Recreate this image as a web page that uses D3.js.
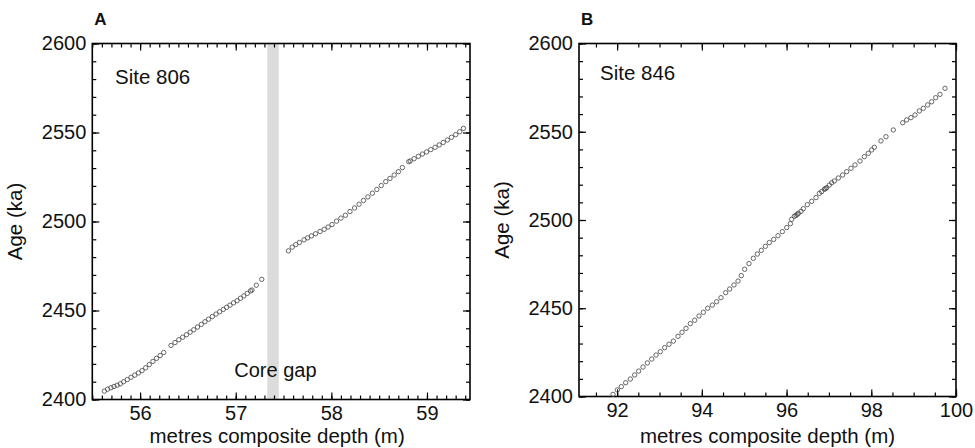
<!DOCTYPE html>
<html lang="en">
<head>
    <meta charset="UTF-8">
    <script src="https://cdn.jsdelivr.net/npm/d3@7"></script>
    <title>Age models</title>
    <style>
        * { margin: 0; padding: 0; box-sizing: border-box; }
        body, html { width: 975px; height: 448px; background: #fff; overflow: hidden; }
        svg { display: block; font-family: "Liberation Sans", Arial, sans-serif; }
    </style>
</head>
<body>
    <svg id="chart" width="975" height="448"></svg>
    <script type="text/javascript">
      // Site 806 (panel A), two runs either side of the core gap
      var depthA = [
        55.626, 55.660, 55.695, 55.727, 55.760, 55.793, 55.828, 55.866, 55.905, 55.944,
        55.982, 56.020, 56.058, 56.096, 56.134, 56.172, 56.210, 56.247, 56.323, 56.365,
        56.405, 56.445, 56.485, 56.523, 56.561, 56.600, 56.640, 56.678, 56.716, 56.755,
        56.794, 56.832, 56.870, 56.905, 56.940, 56.977, 57.014, 57.050, 57.085, 57.120,
        57.155, 57.170, 57.215, 57.272,
        57.551, 57.590, 57.628, 57.666, 57.714, 57.752, 57.792, 57.835, 57.882, 57.925,
        57.966, 58.007, 58.054, 58.100, 58.147, 58.195, 58.243, 58.290, 58.336, 58.382,
        58.429, 58.476, 58.522, 58.569, 58.613, 58.657, 58.701, 58.743, 58.810, 58.825,
        58.866, 58.910, 58.952, 58.996, 59.040, 59.085, 59.128, 59.170, 59.213, 59.256,
        59.300, 59.343, 59.381
      ];
      var ageA = [
        2404.7, 2405.8, 2406.6, 2407.3, 2408.0, 2408.8, 2410.0, 2411.2, 2412.5, 2413.7,
        2414.9, 2416.2, 2417.8, 2419.6, 2421.4, 2423.1, 2424.7, 2426.4, 2430.4, 2432.0,
        2433.6, 2435.0, 2436.4, 2437.8, 2439.2, 2440.7, 2442.2, 2443.7, 2445.1, 2446.6,
        2448.0, 2449.3, 2450.6, 2451.8, 2453.0, 2454.3, 2455.5, 2456.9, 2458.2, 2459.6,
        2461.0, 2461.5, 2464.2, 2467.5,
        2483.5, 2485.6, 2487.0, 2488.2, 2489.7, 2490.8, 2491.9, 2493.1, 2494.4, 2495.6,
        2496.9, 2498.3, 2500.2, 2501.9, 2503.5, 2505.6, 2507.6, 2509.7, 2511.8, 2513.8,
        2515.9, 2518.0, 2520.2, 2522.4, 2524.2, 2526.1, 2528.0, 2530.3, 2533.6, 2534.0,
        2535.3, 2536.6, 2537.9, 2539.1, 2540.4, 2541.7, 2543.0, 2544.4, 2545.8, 2547.3,
        2548.8, 2550.4, 2552.3
      ];

      // Site 846 (panel B)
      var depthB = [
        91.903, 92.005, 92.099, 92.202, 92.312, 92.414, 92.509, 92.611, 92.713, 92.816,
        92.918, 93.020, 93.122, 93.225, 93.327, 93.437, 93.532, 93.626, 93.728, 93.831,
        93.933, 94.035, 94.138, 94.248, 94.350, 94.452, 94.562, 94.657, 94.759, 94.854,
        94.932, 95.011, 95.113, 95.215, 95.310, 95.404, 95.499, 95.593, 95.696, 95.798,
        95.900, 96.003, 96.090, 96.120, 96.183, 96.223, 96.250, 96.278, 96.341, 96.396,
        96.490, 96.593, 96.695, 96.774, 96.829, 96.892, 96.920, 96.947, 97.010, 97.065,
        97.128, 97.222, 97.324, 97.419, 97.521, 97.616, 97.734, 97.836, 97.930, 98.009,
        98.072, 98.229, 98.347, 98.520, 98.741, 98.835, 98.937, 99.032, 99.134, 99.228,
        99.331, 99.425, 99.520, 99.622, 99.740
      ];
      var ageB = [
        2401.2, 2403.7, 2405.6, 2407.8, 2409.9, 2412.2, 2414.4, 2416.7, 2419.0, 2421.2,
        2423.5, 2425.4, 2427.7, 2429.6, 2431.4, 2434.1, 2436.4, 2438.6, 2441.3, 2443.2,
        2445.6, 2447.7, 2450.0, 2451.8, 2453.7, 2456.0, 2458.8, 2460.9, 2463.2, 2465.4,
        2468.5, 2472.1, 2475.3, 2478.3, 2480.7, 2482.8, 2485.1, 2487.2, 2489.0, 2491.1,
        2493.4, 2495.7, 2497.9, 2500.4, 2502.1, 2502.6, 2503.2, 2503.8, 2504.9, 2506.4,
        2508.7, 2510.6, 2512.7, 2515.1, 2516.1, 2517.4, 2517.8, 2518.3, 2519.8, 2521.1,
        2522.1, 2523.8, 2525.5, 2527.4, 2529.3, 2531.2, 2533.4, 2535.9, 2537.8, 2539.7,
        2541.2, 2544.8, 2547.2, 2551.0, 2555.1, 2556.7, 2558.0, 2559.5, 2561.8, 2563.3,
        2565.2, 2567.0, 2569.3, 2571.2, 2574.6
      ];

      var ageTicks = [2400, 2450, 2500, 2550, 2600];
      var depthTicksA = [56, 57, 58, 59];
      var depthTicksB = [92, 94, 96, 98, 100];
      var coreGapA = [57.33, 57.45];

      var svg = d3.select('#chart');

      var panels = [
        { letter: 'A', site: 'Site 806', depth: depthA, age: ageA,
          left: 92.3, right: 470, top: 43.5, bottom: 399.5,
          xDomain: [55.5, 59.45], majors: depthTicksA, minorCount: 40,
          siteX: 115, siteY: 84, gap: coreGapA, titleShift: -4 },
        { letter: 'B', site: 'Site 846', depth: depthB, age: ageB,
          left: 579, right: 956, top: 43.5, bottom: 396.5,
          xDomain: [91.1, 100], majors: depthTicksB, minorCount: 18,
          siteX: 600, siteY: 80, gap: null, titleShift: 0 }
      ];

      function styleAxis(g) {
        g.select('.domain').remove();
        g.selectAll('.tick line').attr('stroke', '#000').attr('stroke-width', 1.2);
        g.selectAll('.tick text')
          .attr('fill', '#111')
          .style('font-size', '20px')
          .style('font-family', '"Liberation Sans", Arial, sans-serif');
      }

      panels.forEach(function (p) {
        var x = d3.scaleLinear().domain(p.xDomain).range([p.left, p.right]);
        var y = d3.scaleLinear().domain([2400, 2600]).range([p.bottom, p.top]);
        var w = p.right - p.left;
        var h = p.bottom - p.top;
        var g = svg.append('g');

        if (p.gap) {
          g.append('rect')
            .attr('x', x(p.gap[0]))
            .attr('y', p.top)
            .attr('width', x(p.gap[1]) - x(p.gap[0]))
            .attr('height', h)
            .attr('fill', '#dcdcdc');
          g.append('text')
            .attr('x', x(p.gap[0]) - 33)
            .attr('y', 377)
            .attr('font-size', 20)
            .attr('fill', '#111')
            .text('Core gap');
        }

        var xMinor = x.ticks(p.minorCount);
        var yMinor = y.ticks(20);

        // bottom
        g.append('g').attr('transform', 'translate(0,' + p.bottom + ')')
          .call(d3.axisBottom(x).tickValues(xMinor).tickSize(-4).tickFormat(''))
          .call(styleAxis);
        g.append('g').attr('transform', 'translate(0,' + p.bottom + ')')
          .call(d3.axisBottom(x).tickValues(p.majors).tickSize(-7).tickPadding(6).tickFormat(d3.format('d')))
          .call(styleAxis);
        // top
        g.append('g').attr('transform', 'translate(0,' + p.top + ')')
          .call(d3.axisTop(x).tickValues(xMinor).tickSize(-4).tickFormat(''))
          .call(styleAxis);
        g.append('g').attr('transform', 'translate(0,' + p.top + ')')
          .call(d3.axisTop(x).tickValues(p.majors).tickSize(-7).tickFormat(''))
          .call(styleAxis);
        // left
        g.append('g').attr('transform', 'translate(' + p.left + ',0)')
          .call(d3.axisLeft(y).tickValues(yMinor).tickSize(-4).tickFormat(''))
          .call(styleAxis);
        g.append('g').attr('transform', 'translate(' + p.left + ',0)')
          .call(d3.axisLeft(y).tickValues(ageTicks).tickSize(-7).tickPadding(6).tickFormat(d3.format('d')))
          .call(styleAxis);
        // right
        g.append('g').attr('transform', 'translate(' + p.right + ',0)')
          .call(d3.axisRight(y).tickValues(yMinor).tickSize(-4).tickFormat(''))
          .call(styleAxis);
        g.append('g').attr('transform', 'translate(' + p.right + ',0)')
          .call(d3.axisRight(y).tickValues(ageTicks).tickSize(-7).tickFormat(''))
          .call(styleAxis);

        g.append('rect')
          .attr('x', p.left).attr('y', p.top)
          .attr('width', w).attr('height', h)
          .attr('fill', 'none')
          .attr('stroke', '#000')
          .attr('stroke-width', 1.6);

        g.append('g').selectAll('circle')
          .data(p.depth)
          .join('circle')
          .attr('cx', function (d) { return x(d); })
          .attr('cy', function (d, i) { return y(p.age[i]); })
          .attr('r', 2.2)
          .attr('fill', 'none')
          .attr('stroke', '#444')
          .attr('stroke-width', 0.8);

        g.append('text')
          .attr('x', p.siteX).attr('y', p.siteY)
          .attr('font-size', 20.5).attr('fill', '#111')
          .text(p.site);

        g.append('text')
          .attr('x', p.left + 2).attr('y', 25)
          .attr('font-size', 17).attr('font-weight', 'bold').attr('fill', '#111')
          .text(p.letter);

        g.append('text')
          .attr('x', (p.left + p.right) / 2 + p.titleShift).attr('y', 443)
          .attr('text-anchor', 'middle')
          .attr('font-size', 20.5).attr('fill', '#111')
          .text('metres composite depth (m)');

        g.append('text')
          .attr('transform', 'translate(' + (p.left - 70) + ',' + ((p.top + p.bottom) / 2) + ') rotate(-90)')
          .attr('text-anchor', 'middle')
          .attr('font-size', 20.5).attr('fill', '#111')
          .text('Age (ka)');
      });
    </script>
</body>
</html>
